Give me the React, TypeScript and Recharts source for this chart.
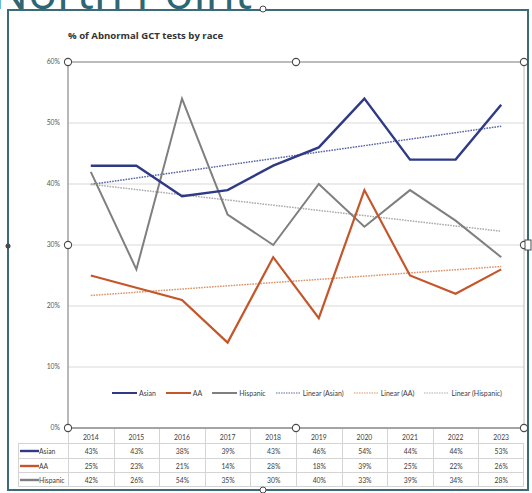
import React from 'react';
import { LineChart, Line, XAxis, YAxis, CartesianGrid, Legend } from 'recharts';

const years = ['2014', '2015', '2016', '2017', '2018', '2019', '2020', '2021', '2022', '2023'];
const asian = [43, 43, 38, 39, 43, 46, 54, 44, 44, 53];
const aa = [25, 23, 21, 14, 28, 18, 39, 25, 22, 26];
const hispanic = [42, 26, 54, 35, 30, 40, 33, 39, 34, 28];
const yTicks = [0, 10, 20, 30, 40, 50, 60];

// Excel-style linear trendline (least squares over x = 1..n)
function linearFit(vals: number[]): number[] {
  const n = vals.length;
  const xs = vals.map((_, i) => i + 1);
  const mx = xs.reduce((a, b) => a + b, 0) / n;
  const my = vals.reduce((a, b) => a + b, 0) / n;
  let sxy = 0;
  let sxx = 0;
  xs.forEach((x, i) => {
    sxy += (x - mx) * (vals[i] - my);
    sxx += (x - mx) * (x - mx);
  });
  const b = sxy / sxx;
  const a = my - b * mx;
  return xs.map((x) => a + b * x);
}

const trendAsian = linearFit(asian);
const trendAA = linearFit(aa);
const trendHispanic = linearFit(hispanic);

const data = years.map((y, i) => ({
  year: y,
  Asian: asian[i],
  AA: aa[i],
  Hispanic: hispanic[i],
  tAsian: trendAsian[i],
  tAA: trendAA[i],
  tHispanic: trendHispanic[i],
}));

const C_ASIAN = '#2E3A86';
const C_AA = '#C4562A';
const C_HISP = '#7F7F7F';
const C_TASIAN = '#5867A6';
const C_TAA = '#DC946A';
const C_THISP = '#ABABAB';

const FONT = 'Lato, "Open Sans", sans-serif';

const PLOT_L = 68;
const PLOT_R = 524;
const PLOT_T = 62;
const PLOT_B = 428;
const XAXIS_H = 15;
const W = 532;
const H = 493;

const legendItems = [
  { label: 'Asian', color: C_ASIAN, dotted: false },
  { label: 'AA', color: C_AA, dotted: false },
  { label: 'Hispanic', color: C_HISP, dotted: false },
  { label: 'Linear (Asian)', color: C_TASIAN, dotted: true },
  { label: 'Linear (AA)', color: C_TAA, dotted: true },
  { label: 'Linear (Hispanic)', color: C_THISP, dotted: true },
];

const LegendContent = () => (
  <div style={{ display: 'flex', alignItems: 'center', paddingLeft: 112, fontFamily: FONT, fontSize: 7, color: '#404040' }}>
    {legendItems.map((it) => (
      <div key={it.label} style={{ display: 'flex', alignItems: 'center', marginRight: 10 }}>
        <svg width={25} height={6} style={{ display: 'block' }}>
          <line x1={0} y1={3} x2={25} y2={3} stroke={it.color} strokeWidth={it.dotted ? 1.2 : 2} strokeDasharray={it.dotted ? '1.5 1' : undefined} />
        </svg>
        <span style={{ marginLeft: 2 }}>{it.label}</span>
      </div>
    ))}
  </div>
);

const tableRows = [
  { label: 'Asian', color: C_ASIAN, vals: asian },
  { label: 'AA', color: C_AA, vals: aa },
  { label: 'Hispanic', color: C_HISP, vals: hispanic },
];

const colW = (PLOT_R - PLOT_L) / years.length;
const ROW_H = 14.7;
const GRID_C = '#D4D4D4';

const DataTable = () => (
  <div style={{ position: 'absolute', left: 0, top: 0, width: W, height: H, fontFamily: FONT, fontSize: 6.8, color: '#404040' }}>
    {years.map((_, i) => (
      <div key={'hs' + i} style={{ position: 'absolute', left: PLOT_L + colW * i, top: PLOT_B, width: 0, height: XAXIS_H, borderLeft: `1px solid ${GRID_C}` }} />
    ))}
    {tableRows.map((r, ri) => {
      const top = PLOT_B + XAXIS_H + ri * ROW_H;
      const last = ri === tableRows.length - 1;
      return (
        <div key={r.label}>
          <div style={{ position: 'absolute', left: 18, top, width: PLOT_L - 18, height: ROW_H, boxSizing: 'border-box', borderTop: `1px solid ${GRID_C}`, borderLeft: `1px solid ${GRID_C}`, borderBottom: last ? `1px solid ${GRID_C}` : 'none', display: 'flex', alignItems: 'center' }}>
            <svg width={19} height={4} style={{ display: 'block', marginLeft: 1 }}>
              <line x1={0} y1={2} x2={19} y2={2} stroke={r.color} strokeWidth={2.4} />
            </svg>
            <span>{r.label}</span>
          </div>
          {r.vals.map((v, ci) => (
            <div key={ci} style={{ position: 'absolute', left: PLOT_L + colW * ci, top, width: colW, height: ROW_H, boxSizing: 'border-box', borderTop: `1px solid ${GRID_C}`, borderLeft: `1px solid ${GRID_C}`, borderRight: ci === r.vals.length - 1 ? `1px solid ${GRID_C}` : 'none', borderBottom: last ? `1px solid ${GRID_C}` : 'none', display: 'flex', alignItems: 'center', justifyContent: 'center' }}>
              {v}%
            </div>
          ))}
        </div>
      );
    })}
  </div>
);

const handle = (x: number, y: number, key: string) => (
  <circle key={key} cx={x} cy={y} r={3.6} fill="#FFFFFF" stroke="#4A4A4A" strokeWidth={1.1} />
);

const Overlay = () => {
  const mx = (PLOT_L + PLOT_R) / 2;
  const my = (PLOT_T + PLOT_B) / 2;
  return (
    <svg width={W} height={H} style={{ position: 'absolute', left: 0, top: 0, pointerEvents: 'none' }}>
      <line x1={PLOT_L} y1={PLOT_T} x2={PLOT_R} y2={PLOT_T} stroke="#8C8C8C" strokeWidth={1.2} />
      <line x1={PLOT_R} y1={PLOT_T} x2={PLOT_R} y2={PLOT_B} stroke="#BDBDBD" strokeWidth={1} />
      {handle(PLOT_L, PLOT_T, 'h1')}
      {handle(mx, PLOT_T, 'h2')}
      {handle(PLOT_R, PLOT_T, 'h3')}
      {handle(PLOT_L, my, 'h4')}
      {handle(PLOT_R, my, 'h5')}
      {handle(PLOT_L, PLOT_B, 'h6')}
      {handle(mx, PLOT_B, 'h7')}
      {handle(PLOT_R, PLOT_B, 'h8')}
      <circle cx={263} cy={9} r={3} fill="#FFFFFF" stroke="#4A4A4A" strokeWidth={1} />
      <circle cx={263} cy={490} r={3} fill="#FFFFFF" stroke="#4A4A4A" strokeWidth={1} />
      <circle cx={8} cy={246} r={2.5} fill="#4A4A4A" />
      <rect x={525} y={240} width={6} height={10} fill="#FFFFFF" stroke="#4A4A4A" strokeWidth={1} />
    </svg>
  );
};

export default function App() {
  return (
    <div style={{ position: 'absolute', left: 0, top: 0, width: W, height: H, overflow: 'hidden', background: '#FFFFFF' }}>
      <svg width={W} height={20} style={{ position: 'absolute', left: 0, top: 0 }}>
        <text x={-8} y={9} fontFamily='"Open Sans", sans-serif' fontSize={48} fill="#2F6673">North Point</text>
      </svg>
      <div style={{ position: 'absolute', left: 7, top: 9, width: 522, height: 482, boxSizing: 'border-box', border: '2px solid #3A6B76', background: '#FFFFFF' }} />
      <div style={{ position: 'absolute', left: 68, top: 29, fontFamily: '"Open Sans", sans-serif', fontWeight: 700, fontSize: 9.6, color: '#333333', whiteSpace: 'nowrap' }}>
        % of Abnormal GCT tests by race
      </div>
      <DataTable />
      <div style={{ position: 'absolute', left: 0, top: 0 }}>
        <LineChart width={W} height={H} data={data} margin={{ top: PLOT_T, right: W - PLOT_R, left: 18, bottom: H - PLOT_B - XAXIS_H }}>
          <CartesianGrid horizontal vertical={false} stroke="#D9D9D9" strokeWidth={1.2} />
          <XAxis dataKey="year" height={XAXIS_H} padding={{ left: colW / 2, right: colW / 2 }} axisLine={{ stroke: '#8C8C8C', strokeWidth: 1.5 }} tickLine={false} tick={{ fontSize: 6.8, fill: '#404040', fontFamily: FONT }} tickMargin={1} interval={0} />
          <YAxis width={PLOT_L - 18} domain={[0, 60]} ticks={yTicks} tickFormatter={(v: number) => `${v}%`} axisLine={{ stroke: '#A0A0A0', strokeWidth: 1.5 }} tickLine={false} tick={{ fontSize: 6.8, fill: '#595959', fontFamily: FONT }} tickMargin={2} />
          <Legend verticalAlign="middle" layout="horizontal" content={<LegendContent />} wrapperStyle={{ position: 'absolute', left: 0, top: 389, width: W }} />
          <Line type="linear" dataKey="tAsian" name="Linear (Asian)" stroke={C_TASIAN} strokeWidth={1.5} strokeDasharray="1.6 1.1" dot={false} isAnimationActive={false} legendType="none" />
          <Line type="linear" dataKey="tAA" name="Linear (AA)" stroke={C_TAA} strokeWidth={1.5} strokeDasharray="1.6 1.1" dot={false} isAnimationActive={false} legendType="none" />
          <Line type="linear" dataKey="tHispanic" name="Linear (Hispanic)" stroke={C_THISP} strokeWidth={1.5} strokeDasharray="1.6 1.1" dot={false} isAnimationActive={false} legendType="none" />
          <Line type="linear" dataKey="Hispanic" stroke={C_HISP} strokeWidth={2} dot={false} isAnimationActive={false} />
          <Line type="linear" dataKey="AA" stroke={C_AA} strokeWidth={2.2} dot={false} isAnimationActive={false} />
          <Line type="linear" dataKey="Asian" stroke={C_ASIAN} strokeWidth={2.4} dot={false} isAnimationActive={false} />
        </LineChart>
      </div>
      <Overlay />
    </div>
  );
}
